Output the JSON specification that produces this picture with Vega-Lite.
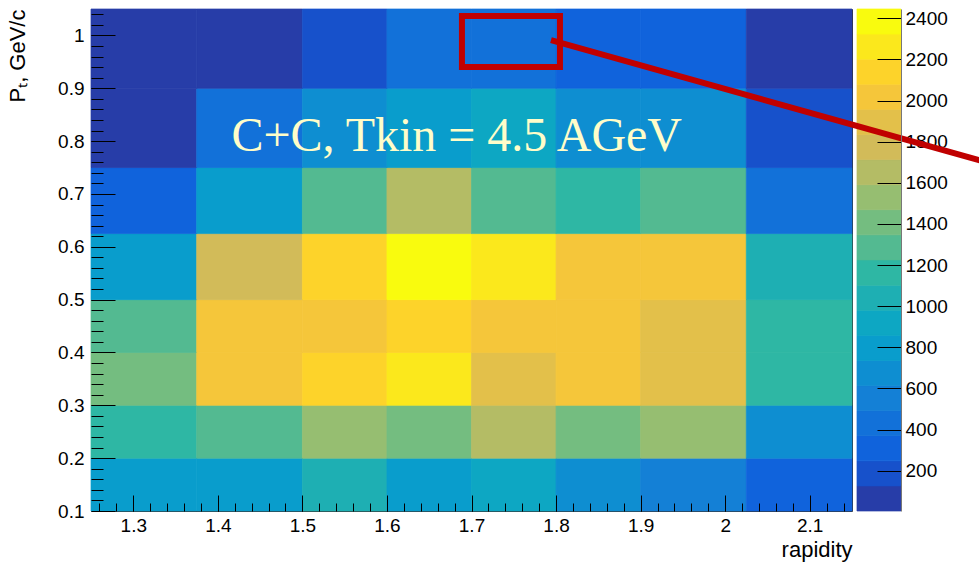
{
  "$schema": "https://vega.github.io/schema/vega-lite/v6.json",
  "width": 761,
  "height": 502,
  "autosize": {"type": "none"},
  "padding": {"left": 91, "top": 9, "right": 127, "bottom": 52},
  "background": "white",
  "config": {
    "font": "Liberation Sans",
    "view": {"stroke": "#333333", "strokeWidth": 1},
    "axis": {
      "labelFont": "Liberation Sans", "titleFont": "Liberation Sans",
      "labelColor": "#000000", "titleColor": "#000000", "tickColor": "#000000",
      "grid": false, "domain": false, "labelFontSize": 19, "titleFontSize": 22,
      "titleFontWeight": "normal", "labelFlush": false, "labelOverlap": false, "tickWidth": 1
    }
  },
  "datasets": {
    "cells": [
      {"rap_lo": 1.25, "rap_hi": 1.375, "pt_lo": 0.1, "pt_hi": 0.2, "count": 812},
      {"rap_lo": 1.375, "rap_hi": 1.5, "pt_lo": 0.1, "pt_hi": 0.2, "count": 781},
      {"rap_lo": 1.5, "rap_hi": 1.6, "pt_lo": 0.1, "pt_hi": 0.2, "count": 1050},
      {"rap_lo": 1.6, "rap_hi": 1.7, "pt_lo": 0.1, "pt_hi": 0.2, "count": 790},
      {"rap_lo": 1.7, "rap_hi": 1.8, "pt_lo": 0.1, "pt_hi": 0.2, "count": 925},
      {"rap_lo": 1.8, "rap_hi": 1.9, "pt_lo": 0.1, "pt_hi": 0.2, "count": 660},
      {"rap_lo": 1.9, "rap_hi": 2.025, "pt_lo": 0.1, "pt_hi": 0.2, "count": 560},
      {"rap_lo": 2.025, "rap_hi": 2.15, "pt_lo": 0.1, "pt_hi": 0.2, "count": 300},

      {"rap_lo": 1.25, "rap_hi": 1.375, "pt_lo": 0.2, "pt_hi": 0.3, "count": 1170},
      {"rap_lo": 1.375, "rap_hi": 1.5, "pt_lo": 0.2, "pt_hi": 0.3, "count": 1290},
      {"rap_lo": 1.5, "rap_hi": 1.6, "pt_lo": 0.2, "pt_hi": 0.3, "count": 1525},
      {"rap_lo": 1.6, "rap_hi": 1.7, "pt_lo": 0.2, "pt_hi": 0.3, "count": 1400},
      {"rap_lo": 1.7, "rap_hi": 1.8, "pt_lo": 0.2, "pt_hi": 0.3, "count": 1660},
      {"rap_lo": 1.8, "rap_hi": 1.9, "pt_lo": 0.2, "pt_hi": 0.3, "count": 1415},
      {"rap_lo": 1.9, "rap_hi": 2.025, "pt_lo": 0.2, "pt_hi": 0.3, "count": 1540},
      {"rap_lo": 2.025, "rap_hi": 2.15, "pt_lo": 0.2, "pt_hi": 0.3, "count": 690},

      {"rap_lo": 1.25, "rap_hi": 1.375, "pt_lo": 0.3, "pt_hi": 0.4, "count": 1395},
      {"rap_lo": 1.375, "rap_hi": 1.5, "pt_lo": 0.3, "pt_hi": 0.4, "count": 2010},
      {"rap_lo": 1.5, "rap_hi": 1.6, "pt_lo": 0.3, "pt_hi": 0.4, "count": 2150},
      {"rap_lo": 1.6, "rap_hi": 1.7, "pt_lo": 0.3, "pt_hi": 0.4, "count": 2270},
      {"rap_lo": 1.7, "rap_hi": 1.8, "pt_lo": 0.3, "pt_hi": 0.4, "count": 1890},
      {"rap_lo": 1.8, "rap_hi": 1.9, "pt_lo": 0.3, "pt_hi": 0.4, "count": 2025},
      {"rap_lo": 1.9, "rap_hi": 2.025, "pt_lo": 0.3, "pt_hi": 0.4, "count": 1880},
      {"rap_lo": 2.025, "rap_hi": 2.15, "pt_lo": 0.3, "pt_hi": 0.4, "count": 1150},

      {"rap_lo": 1.25, "rap_hi": 1.375, "pt_lo": 0.4, "pt_hi": 0.5, "count": 1280},
      {"rap_lo": 1.375, "rap_hi": 1.5, "pt_lo": 0.4, "pt_hi": 0.5, "count": 2030},
      {"rap_lo": 1.5, "rap_hi": 1.6, "pt_lo": 0.4, "pt_hi": 0.5, "count": 1995},
      {"rap_lo": 1.6, "rap_hi": 1.7, "pt_lo": 0.4, "pt_hi": 0.5, "count": 2130},
      {"rap_lo": 1.7, "rap_hi": 1.8, "pt_lo": 0.4, "pt_hi": 0.5, "count": 2005},
      {"rap_lo": 1.8, "rap_hi": 1.9, "pt_lo": 0.4, "pt_hi": 0.5, "count": 2040},
      {"rap_lo": 1.9, "rap_hi": 2.025, "pt_lo": 0.4, "pt_hi": 0.5, "count": 1905},
      {"rap_lo": 2.025, "rap_hi": 2.15, "pt_lo": 0.4, "pt_hi": 0.5, "count": 1170},

      {"rap_lo": 1.25, "rap_hi": 1.375, "pt_lo": 0.5, "pt_hi": 0.625, "count": 800},
      {"rap_lo": 1.375, "rap_hi": 1.5, "pt_lo": 0.5, "pt_hi": 0.625, "count": 1780},
      {"rap_lo": 1.5, "rap_hi": 1.6, "pt_lo": 0.5, "pt_hi": 0.625, "count": 2145},
      {"rap_lo": 1.6, "rap_hi": 1.7, "pt_lo": 0.5, "pt_hi": 0.625, "count": 2445},
      {"rap_lo": 1.7, "rap_hi": 1.8, "pt_lo": 0.5, "pt_hi": 0.625, "count": 2255},
      {"rap_lo": 1.8, "rap_hi": 1.9, "pt_lo": 0.5, "pt_hi": 0.625, "count": 2010},
      {"rap_lo": 1.9, "rap_hi": 2.025, "pt_lo": 0.5, "pt_hi": 0.625, "count": 2030},
      {"rap_lo": 2.025, "rap_hi": 2.15, "pt_lo": 0.5, "pt_hi": 0.625, "count": 1035},

      {"rap_lo": 1.25, "rap_hi": 1.375, "pt_lo": 0.625, "pt_hi": 0.75, "count": 315},
      {"rap_lo": 1.375, "rap_hi": 1.5, "pt_lo": 0.625, "pt_hi": 0.75, "count": 790},
      {"rap_lo": 1.5, "rap_hi": 1.6, "pt_lo": 0.625, "pt_hi": 0.75, "count": 1275},
      {"rap_lo": 1.6, "rap_hi": 1.7, "pt_lo": 0.625, "pt_hi": 0.75, "count": 1660},
      {"rap_lo": 1.7, "rap_hi": 1.8, "pt_lo": 0.625, "pt_hi": 0.75, "count": 1295},
      {"rap_lo": 1.8, "rap_hi": 1.9, "pt_lo": 0.625, "pt_hi": 0.75, "count": 1155},
      {"rap_lo": 1.9, "rap_hi": 2.025, "pt_lo": 0.625, "pt_hi": 0.75, "count": 1290},
      {"rap_lo": 2.025, "rap_hi": 2.15, "pt_lo": 0.625, "pt_hi": 0.75, "count": 425},

      {"rap_lo": 1.25, "rap_hi": 1.375, "pt_lo": 0.75, "pt_hi": 0.9, "count": 60},
      {"rap_lo": 1.375, "rap_hi": 1.5, "pt_lo": 0.75, "pt_hi": 0.9, "count": 440},
      {"rap_lo": 1.5, "rap_hi": 1.6, "pt_lo": 0.75, "pt_hi": 0.9, "count": 680},
      {"rap_lo": 1.6, "rap_hi": 1.7, "pt_lo": 0.75, "pt_hi": 0.9, "count": 805},
      {"rap_lo": 1.7, "rap_hi": 1.8, "pt_lo": 0.75, "pt_hi": 0.9, "count": 915},
      {"rap_lo": 1.8, "rap_hi": 1.9, "pt_lo": 0.75, "pt_hi": 0.9, "count": 670},
      {"rap_lo": 1.9, "rap_hi": 2.025, "pt_lo": 0.75, "pt_hi": 0.9, "count": 690},
      {"rap_lo": 2.025, "rap_hi": 2.15, "pt_lo": 0.75, "pt_hi": 0.9, "count": 190},

      {"rap_lo": 1.25, "rap_hi": 1.375, "pt_lo": 0.9, "pt_hi": 1.05, "count": 4},
      {"rap_lo": 1.375, "rap_hi": 1.5, "pt_lo": 0.9, "pt_hi": 1.05, "count": 35},
      {"rap_lo": 1.5, "rap_hi": 1.6, "pt_lo": 0.9, "pt_hi": 1.05, "count": 180},
      {"rap_lo": 1.6, "rap_hi": 1.7, "pt_lo": 0.9, "pt_hi": 1.05, "count": 425},
      {"rap_lo": 1.7, "rap_hi": 1.8, "pt_lo": 0.9, "pt_hi": 1.05, "count": 440},
      {"rap_lo": 1.8, "rap_hi": 1.9, "pt_lo": 0.9, "pt_hi": 1.05, "count": 305},
      {"rap_lo": 1.9, "rap_hi": 2.025, "pt_lo": 0.9, "pt_hi": 1.05, "count": 320},
      {"rap_lo": 2.025, "rap_hi": 2.15, "pt_lo": 0.9, "pt_hi": 1.05, "count": 80}
    ],
    "levels": [
      {"lo": 4, "hi": 126, "mid": 65},
      {"lo": 126, "hi": 248, "mid": 187},
      {"lo": 248, "hi": 370, "mid": 309},
      {"lo": 370, "hi": 492, "mid": 431},
      {"lo": 492, "hi": 614, "mid": 553},
      {"lo": 614, "hi": 736, "mid": 675},
      {"lo": 736, "hi": 858, "mid": 797},
      {"lo": 858, "hi": 980, "mid": 919},
      {"lo": 980, "hi": 1102, "mid": 1041},
      {"lo": 1102, "hi": 1225, "mid": 1163},
      {"lo": 1225, "hi": 1347, "mid": 1286},
      {"lo": 1347, "hi": 1469, "mid": 1408},
      {"lo": 1469, "hi": 1591, "mid": 1530},
      {"lo": 1591, "hi": 1713, "mid": 1652},
      {"lo": 1713, "hi": 1835, "mid": 1774},
      {"lo": 1835, "hi": 1957, "mid": 1896},
      {"lo": 1957, "hi": 2079, "mid": 2018},
      {"lo": 2079, "hi": 2201, "mid": 2140},
      {"lo": 2201, "hi": 2323, "mid": 2262},
      {"lo": 2323, "hi": 2445, "mid": 2384}
    ]
  },
  "resolve": {"scale": {"x": "independent", "y": "independent"}},
  "layer": [
    {
      "data": {"name": "cells"},
      "mark": {"type": "rect", "strokeWidth": 0.7},
      "encoding": {
        "x": {"field": "rap_lo", "type": "quantitative",
          "scale": {"domain": [1.25, 2.15], "nice": false, "zero": false},
          "axis": {"orient": "bottom", "values": [1.3, 1.4, 1.5, 1.6, 1.7, 1.8, 1.9, 2.0, 2.1], "format": "~g",
            "tickSize": -16, "labelPadding": 21, "title": "rapidity", "titleAnchor": "end", "titlePadding": 4, "zindex": 1}},
        "x2": {"field": "rap_hi"},
        "y": {"field": "pt_lo", "type": "quantitative",
          "scale": {"domain": [0.1, 1.05], "nice": false, "zero": false},
          "axis": {"orient": "left", "values": [0.1, 0.2, 0.3, 0.4, 0.5, 0.6, 0.7, 0.8, 0.9, 1.0], "format": "~g",
            "tickSize": -24, "labelPadding": 31, "title": "Pₜ, GeV/c", "titleAnchor": "end", "titlePadding": 28, "zindex": 1}},
        "y2": {"field": "pt_hi"},
        "color": {"field": "count", "type": "quantitative",
          "scale": {"type": "quantize", "domain": [4, 2445], "nice": false, "zero": false,
            "range": ["#273DA8", "#1751CB", "#1063DC", "#1271D9", "#1480D6", "#0E8ED1", "#099DCC", "#0DA7C3", "#1EAFB3", "#2EB7A4", "#53BA91", "#74BD80", "#96BE71", "#B4BC65", "#D2BB59", "#E3C04A", "#F5C63A", "#FDD32A", "#FBE81C", "#F9FB0E"]},
          "legend": null},
        "stroke": {"field": "count", "type": "quantitative",
          "scale": {"type": "quantize", "domain": [4, 2445], "nice": false, "zero": false,
            "range": ["#273DA8", "#1751CB", "#1063DC", "#1271D9", "#1480D6", "#0E8ED1", "#099DCC", "#0DA7C3", "#1EAFB3", "#2EB7A4", "#53BA91", "#74BD80", "#96BE71", "#B4BC65", "#D2BB59", "#E3C04A", "#F5C63A", "#FDD32A", "#FBE81C", "#F9FB0E"]},
          "legend": null}
      }
    },
    {
      "data": {"name": "levels"},
      "mark": {"type": "rect", "clip": false, "strokeWidth": 0.7},
      "encoding": {
        "x": {"datum": 2.1559, "type": "quantitative", "scale": {"domain": [1.25, 2.15], "nice": false, "zero": false}, "axis": null},
        "x2": {"datum": 2.2079},
        "y": {"field": "lo", "type": "quantitative",
          "scale": {"domain": [4, 2445], "nice": false, "zero": false},
          "axis": {"orient": "right", "offset": 49, "values": [200, 400, 600, 800, 1000, 1200, 1400, 1600, 1800, 2000, 2200, 2400],
            "format": "d", "ticks": false, "labelPadding": 4, "domain": false, "title": null, "zindex": 0}},
        "y2": {"field": "hi"},
        "color": {"field": "mid", "type": "quantitative",
          "scale": {"type": "quantize", "domain": [4, 2445], "nice": false, "zero": false,
            "range": ["#273DA8", "#1751CB", "#1063DC", "#1271D9", "#1480D6", "#0E8ED1", "#099DCC", "#0DA7C3", "#1EAFB3", "#2EB7A4", "#53BA91", "#74BD80", "#96BE71", "#B4BC65", "#D2BB59", "#E3C04A", "#F5C63A", "#FDD32A", "#FBE81C", "#F9FB0E"]},
          "legend": null},
        "stroke": {"field": "mid", "type": "quantitative",
          "scale": {"type": "quantize", "domain": [4, 2445], "nice": false, "zero": false,
            "range": ["#273DA8", "#1751CB", "#1063DC", "#1271D9", "#1480D6", "#0E8ED1", "#099DCC", "#0DA7C3", "#1EAFB3", "#2EB7A4", "#53BA91", "#74BD80", "#96BE71", "#B4BC65", "#D2BB59", "#E3C04A", "#F5C63A", "#FDD32A", "#FBE81C", "#F9FB0E"]},
          "legend": null}
      }
    },
    {
      "data": {"values": [{}]},
      "mark": {"type": "point", "opacity": 0, "clip": false},
      "encoding": {
        "x": {"datum": 2.18, "type": "quantitative", "scale": {"domain": [1.25, 2.15], "nice": false, "zero": false}, "axis": null},
        "y": {"datum": 1000, "type": "quantitative",
          "scale": {"domain": [4, 2445], "nice": false, "zero": false},
          "axis": {"orient": "right", "offset": 49, "values": [200, 400, 600, 800, 1000, 1200, 1400, 1600, 1800, 2000, 2200, 2400],
            "labels": false, "tickSize": -24, "domain": true, "domainColor": "#777777", "title": null, "zindex": 1}}
      }
    },
    {
      "data": {"values": [{}]},
      "mark": {"type": "text", "text": "C+C, Tkin = 4.5 AGeV", "font": "Liberation Serif", "fontSize": 48,
        "fill": "#FFFDC9", "align": "center", "baseline": "alphabetic"},
      "encoding": {
        "x": {"datum": 1.6825, "type": "quantitative", "scale": {"domain": [1.25, 2.15], "nice": false, "zero": false}, "axis": null},
        "y": {"datum": 0.7818, "type": "quantitative", "scale": {"domain": [0.1, 1.05], "nice": false, "zero": false}, "axis": null}
      }
    },
    {
      "data": {"values": [{}]},
      "mark": {"type": "rect", "filled": false, "stroke": "#C00000", "strokeWidth": 6, "strokeJoin": "miter"},
      "encoding": {
        "x": {"datum": 1.6887, "type": "quantitative", "scale": {"domain": [1.25, 2.15], "nice": false, "zero": false},
          "axis": {"orient": "bottom", "labels": false, "title": null, "tickSize": -8, "zindex": 1,
            "values": [1.26,1.28,1.30,1.32,1.34,1.36,1.38,1.40,1.42,1.44,1.46,1.48,1.50,1.52,1.54,1.56,1.58,1.60,1.62,1.64,1.66,1.68,1.70,1.72,1.74,1.76,1.78,1.80,1.82,1.84,1.86,1.88,1.90,1.92,1.94,1.96,1.98,2.00,2.02,2.04,2.06,2.08,2.10,2.12,2.14]}},
        "x2": {"datum": 1.8046},
        "y": {"datum": 0.9402, "type": "quantitative", "scale": {"domain": [0.1, 1.05], "nice": false, "zero": false},
          "axis": {"orient": "left", "labels": false, "title": null, "tickSize": -12, "zindex": 1,
            "values": [0.12,0.14,0.16,0.18,0.2,0.22,0.24,0.26,0.28,0.3,0.32,0.34,0.36,0.38,0.4,0.42,0.44,0.46,0.48,0.5,0.52,0.54,0.56,0.58,0.6,0.62,0.64,0.66,0.68,0.7,0.72,0.74,0.76,0.78,0.8,0.82,0.84,0.86,0.88,0.9,0.92,0.94,0.96,0.98,1,1.02,1.04]}},
        "y2": {"datum": 1.0367}
      }
    },
    {
      "data": {"values": [{}]},
      "mark": {"type": "rule", "clip": false, "stroke": "#C00000", "strokeWidth": 6, "strokeCap": "butt"},
      "encoding": {
        "x": {"datum": 1.794, "type": "quantitative", "scale": {"domain": [1.25, 2.15], "nice": false, "zero": false}, "axis": null},
        "x2": {"datum": 2.3202},
        "y": {"datum": 0.9913, "type": "quantitative", "scale": {"domain": [0.1, 1.05], "nice": false, "zero": false}, "axis": null},
        "y2": {"datum": 0.7548}
      }
    }
  ]
}
